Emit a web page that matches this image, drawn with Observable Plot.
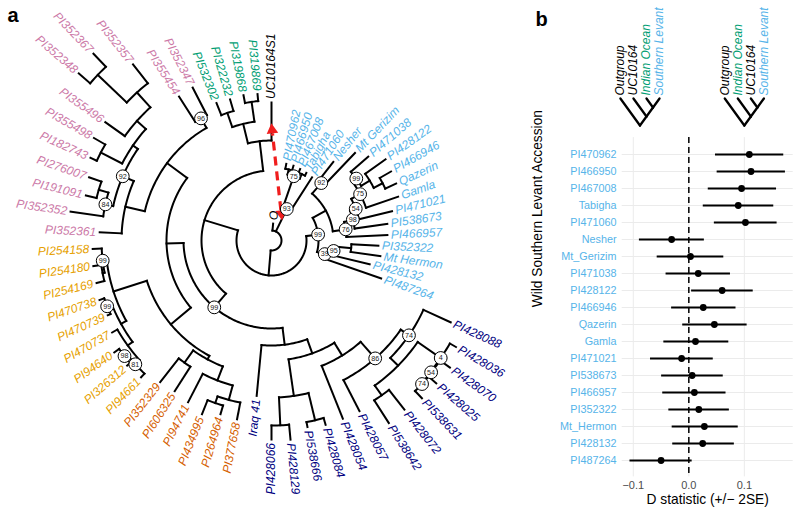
<!DOCTYPE html>
<html><head><meta charset="utf-8">
<script src="https://cdn.jsdelivr.net/npm/d3@7"></script>
<script src="https://cdn.jsdelivr.net/npm/@observablehq/plot@0.6"></script>
<style>
body{margin:0;background:#fff;}
#wrap{display:flex;width:800px;height:519px;overflow:hidden;background:#fff;}
#left{width:520px;height:519px;}
#right{display:flex;flex-direction:column;width:280px;}
svg{display:block;overflow:visible;}
</style></head><body>
<div id="wrap"><div id="left"></div><div id="right"></div></div>
<script>
const FONT = '"Liberation Sans", Arial, Helvetica, sans-serif';

// ---------------- Panel a: phylogeny (Newick clades, branch lengths, bootstrap labels) ----------------
const cladeSL93 = "(((PI470962:5,PI466950:5):5,(PI467008:4,Tabigha:3):5)75:33,PI471060:40)93";
const cladeSLmain = "(((Nesher:24,Mt_Gerizim:45)92:14,(((((PI471038:23,(PI428122:25,(PI466946:13,Qazerin:12):10):10)99:5,Gamla:34)75:10,PI471021:34)54:6,PI538673:33)98:9,PI466957:41)76:13):15,(((PI352322:27,Mt_Hermon:30):17,PI428132:38)95:8,PI487264:61)39:8)99";
const cladeNavy = "(((((PI428088:30,((PI428036:7,(PI428070:12,(PI428025:10,PI538631:10)74:1)54:1)4:28,(PI428072:25,PI538642:27):12):11)74:10,PI428057:35)86:22,PI428054:57):15,((PI428084:7,PI538666:5):28,(PI428129:15,PI428066:14):28):37):15,Iraq_41:51)";
const cladeVermillion = "(((PI377658:17,(PI264964:9,PI434995:15):7):15,PI94741:32):15,(PI606325:29,PI352329:30):15)";
const cladeOrange = "((((PI94661:5,(PI326312:4,PI94640:6)98:3)81:6,PI470737:6):6,(PI470739:3,PI470738:5)99:5):6,((PI254169:8,PI254180:8):2,PI254158:9)99:4)";
const cladePink = "((PI352361:22,((PI352352:33,(PI191091:11,PI276007:13):10)84:8,((PI182743:7,PI355498:13):24,(PI355496:24,((PI352348:15,PI352367:18):40,PI352357:24):20):12):6)92:12):20,(PI355454:30,PI352347:31)96:11)";
const cladeIndianOceanUC = "(((PI532302:13,PI322232:12):15,(PI319868:8,PI319869:7):20):20,UC10164S1:38)";
const treeNewick = `(O:7,${cladeSL93}:25,(${cladeSLmain}:12,((${cladeNavy}:17,((${cladeVermillion}:4,${cladeOrange}:35):26,${cladePink}:25):17)99:18,${cladeIndianOceanUC}:30):35):25):10;`;

const southernLevantTips = ["PI470962","PI466950","PI467008","Tabigha","PI471060","Nesher","Mt Gerizim","PI471038","PI428122","PI466946","Qazerin","Gamla","PI471021","PI538673","PI466957","PI352322","Mt Hermon","PI428132","PI487264"];
const navyTips = ["PI428088","PI428036","PI428070","PI428025","PI538631","PI428072","PI538642","PI428057","PI428054","PI428084","PI538666","PI428129","PI428066","Iraq 41"];
const vermillionTips = ["PI377658","PI264964","PI434995","PI94741","PI606325","PI352329"];
const orangeTips = ["PI94661","PI326312","PI94640","PI470737","PI470739","PI470738","PI254169","PI254180","PI254158"];
const pinkTips = ["PI352361","PI352352","PI191091","PI276007","PI182743","PI355498","PI355496","PI352348","PI352367","PI352357","PI355454","PI352347"];
const indianOceanTips = ["PI532302","PI322232","PI319868","PI319869"];

const groupColor = [
  [southernLevantTips, "#56B4E9"], [navyTips, "#000080"], [vermillionTips, "#D55E00"],
  [orangeTips, "#E69F00"], [pinkTips, "#CC79A7"], [indianOceanTips, "#009E73"]
];
const colorOf = name => { for (const [g, c] of groupColor) if (g.includes(name)) return c; return "#000"; };

function parseNewick(s) {
  let i = 0;
  function node() {
    const n = {children: []};
    if (s[i] === "(") {
      i++;
      do { n.children.push(node()); } while (s[i] === "," && ++i);
      i++;
    }
    let name = "";
    while (i < s.length && !",():;".includes(s[i])) name += s[i++];
    n.name = name.trim().replace(/_/g, " ");
    n.length = 0;
    if (s[i] === ":") {
      i++; let num = "";
      while (i < s.length && !",();".includes(s[i])) num += s[i++];
      n.length = +num;
    }
    return n;
  }
  return node();
}

const root = parseNewick(treeNewick);
const tips = [], nodes = [];
(function walk(n, parent) {
  n.parent = parent;
  n.depth = (parent ? parent.depth : 0) + n.length;
  nodes.push(n);
  if (!n.children.length) tips.push(n);
  n.children.forEach(c => walk(c, n));
})(root, null);
tips.forEach((t, i) => t.angle = -90 + 360 * (i + 1) / tips.length);
(function setAngle(n) {
  if (n.children.length) { n.children.forEach(setAngle); n.angle = d3.mean(n.children, c => c.angle); }
})(root);

const rad = a => a * Math.PI / 180;
const PX = (r, a) => r * Math.cos(rad(a));
const PY = (r, a) => r * Math.sin(rad(a));

const segments = nodes.filter(n => n.parent).map(n => ({
  x1: PX(n.parent.depth, n.angle), y1: PY(n.parent.depth, n.angle),
  x2: PX(n.depth, n.angle), y2: PY(n.depth, n.angle)
}));
const arcPts = [];
nodes.filter(n => n.children.length).forEach((n, k) => {
  const a0 = d3.min(n.children, c => c.angle), a1 = d3.max(n.children, c => c.angle);
  const steps = Math.max(2, Math.ceil(a1 - a0));
  for (let j = 0; j <= steps; j++) {
    const a = a0 + (a1 - a0) * j / steps;
    arcPts.push({id: k, x: PX(n.depth, a), y: PY(n.depth, a)});
  }
});
const boots = nodes.filter(n => n.children.length && /^\d+$/.test(n.name))
  .map(n => ({x: PX(n.depth, n.angle), y: PY(n.depth, n.angle), label: n.name}));
const tipLabels = tips.map(t => {
  const flip = t.angle >= 90 && t.angle < 270;
  const r = t.depth + 3.5;
  return {x: PX(r, t.angle), y: PY(r, t.angle), name: t.name, flip,
          rot: flip ? t.angle - 180 : t.angle, fill: colorOf(t.name)};
});

// red dashed double arrow: between stem of clade "93" and stem of UC10164S1
const c93 = nodes.find(n => n.name === "93");
const uc = nodes.find(n => n.name === "UC10164S1");
const rB = c93.parent.depth + 0.55 * c93.length;
const rT = uc.parent.depth + 0.42 * uc.length;
const B = [PX(rB, c93.angle), PY(rB, c93.angle)], T = [PX(rT, uc.angle), PY(rT, uc.angle)];
const L = Math.hypot(T[0] - B[0], T[1] - B[1]);
const ux = (T[0] - B[0]) / L, uy = (T[1] - B[1]) / L;
const arrowLine = [{x1: B[0] + ux * 9, y1: B[1] + uy * 9, x2: T[0] - ux * 9, y2: T[1] - uy * 9}];
const rotUp = Math.atan2(ux, -uy) * 180 / Math.PI;
const arrowHeads = [
  {x: T[0] - ux * 5.5, y: T[1] - uy * 5.5, rot: rotUp},
  {x: B[0] + ux * 5.5, y: B[1] + uy * 5.5, rot: rotUp + 180}
];

const treePlot = Plot.plot({
  width: 520, height: 519, margin: 0,
  x: {domain: [-271, 249], axis: null},
  y: {domain: [-240, 279], axis: null, reverse: true},
  color: {type: "identity"},
  style: {fontFamily: FONT, background: "white", overflow: "visible"},
  marks: [
    Plot.link(segments, {x1: "x1", y1: "y1", x2: "x2", y2: "y2", stroke: "black", strokeWidth: 2, strokeLinecap: "square"}),
    Plot.line(arcPts, {x: "x", y: "y", z: "id", stroke: "black", strokeWidth: 2, strokeLinecap: "square"}),
    Plot.link(arrowLine, {x1: "x1", y1: "y1", x2: "x2", y2: "y2", stroke: "#f01e1e", strokeWidth: 3.2, strokeDasharray: "9,6"}),
    Plot.dot(arrowHeads, {x: "x", y: "y", rotate: "rot", symbol: "triangle", r: 4.3, fill: "#f01e1e"}),
    Plot.dot(boots, {x: "x", y: "y", r: 6.4, fill: "white", stroke: "black", strokeWidth: 1}),
    Plot.text(boots, {x: "x", y: "y", text: "label", fontSize: 7.2, fill: "#222"}),
    Plot.text(tipLabels.filter(d => !d.flip), {x: "x", y: "y", text: "name", rotate: "rot", fill: "fill", textAnchor: "start", fontStyle: "italic", fontSize: 12}),
    Plot.text(tipLabels.filter(d => d.flip), {x: "x", y: "y", text: "name", rotate: "rot", fill: "fill", textAnchor: "end", fontStyle: "italic", fontSize: 12}),
    Plot.text(["a"], {text: d => d, frameAnchor: "top-left", dx: 7, dy: 21, textAnchor: "start", lineAnchor: "bottom", fontWeight: "bold", fontSize: 20, fill: "black"})
  ]
});
document.getElementById("left").append(treePlot);

// ---------------- Panel b: D statistics ----------------
const accessions = ["PI470962","PI466950","PI467008","Tabigha","PI471060","Nesher","Mt_Gerizim","PI471038","PI428122","PI466946","Qazerin","Gamla","PI471021","PI538673","PI466957","PI352322","Mt_Hermon","PI428132","PI487264"];
const dStat = [0.109, 0.112, 0.095, 0.089, 0.102, -0.031, 0.003, 0.017, 0.060, 0.026, 0.046, 0.012, -0.013, 0.006, 0.010, 0.018, 0.028, 0.025, -0.050];
const dLower = [0.048, 0.051, 0.035, 0.026, 0.046, -0.089, -0.057, -0.041, 0.005, -0.031, -0.011, -0.045, -0.069, -0.049, -0.047, -0.036, -0.030, -0.029, -0.106];
const dUpper = [0.171, 0.174, 0.158, 0.153, 0.159, 0.028, 0.063, 0.075, 0.116, 0.085, 0.105, 0.072, 0.044, 0.062, 0.067, 0.073, 0.089, 0.082, 0.006];
const xTicks = [-0.1, 0, 0.1];
const topologyLeft = ["Outgroup", "UC10164", "Indian Ocean", "Southern Levant"];
const topologyRight = ["Outgroup", "Indian Ocean", "UC10164", "Southern Levant"];
const topologyColor = {"Outgroup": "#000", "UC10164": "#000", "Indian Ocean": "#009E73", "Southern Levant": "#56B4E9"};

const X_DOMAIN = [-0.12, 0.188];
const ML = 101.7, MR = 7.3;

// ladder topology icons (slanted cladograms)
function ladder(order, center, spacing) {
  const n = order.length;
  const xAt = i => center + (i - (n - 1) / 2) * spacing;
  const nodeAt = a => ({x: xAt((a + n - 1) / 2), y: (n - 1 - a) / 2});
  const edges = [], labels = [];
  for (let a = 0; a < n - 1; a++) {
    const nd = nodeAt(a);
    edges.push({x1: xAt(a), y1: 0, x2: nd.x, y2: nd.y});
    if (a > 0) { const p = nodeAt(a - 1); edges.push({x1: nd.x, y1: nd.y, x2: p.x, y2: p.y}); }
  }
  const last = nodeAt(n - 2);
  edges.push({x1: xAt(n - 1), y1: 0, x2: last.x, y2: last.y});
  order.forEach((name, i) => labels.push({x: xAt(i), y: 0, name, fill: topologyColor[name]}));
  return {edges, labels};
}
const iconA = ladder(topologyLeft, -0.088, 0.0235);
const iconB = ladder(topologyRight, 0.100, 0.0235);

const iconPlot = Plot.plot({
  width: 280, height: 135,
  marginLeft: ML, marginRight: MR, marginTop: 98, marginBottom: 10,
  x: {domain: X_DOMAIN, axis: null},
  y: {domain: [0, 1.5], axis: null, reverse: true},
  color: {type: "identity"},
  style: {fontFamily: FONT, background: "white", overflow: "visible"},
  marks: [
    Plot.link([...iconA.edges, ...iconB.edges], {x1: "x1", y1: "y1", x2: "x2", y2: "y2", stroke: "black", strokeWidth: 2.3, strokeLinecap: "round"}),
    Plot.text([...iconA.labels, ...iconB.labels], {x: "x", y: "y", dy: -3, text: "name", rotate: -90, textAnchor: "start", fill: "fill", fontStyle: "italic", fontSize: 12}),
    Plot.text(["b"], {text: d => d, frameAnchor: "top-left", dx: -86.7, dy: -73, textAnchor: "start", lineAnchor: "bottom", fontWeight: "bold", fontSize: 20, fill: "black"})
  ]
});

const dData = accessions.map((name, i) => ({name, D: dStat[i], lo: dLower[i], hi: dUpper[i]}));
const dotPlot = Plot.plot({
  width: 280, height: 384,
  marginLeft: ML, marginRight: MR, marginTop: 2.1, marginBottom: 42.6,
  style: {fontFamily: FONT, fontSize: "11px", color: "#4d4d4d", background: "white", overflow: "visible"},
  x: {domain: X_DOMAIN, ticks: xTicks, tickFormat: ".1f", tickSize: 0, tickPadding: 4, label: null},
  y: {domain: accessions, padding: 0.6, axis: null},
  marks: [
    Plot.ruleY(accessions, {y: d => d, stroke: "#ebebeb", strokeWidth: 1}),
    Plot.ruleX(xTicks, {x: d => d, stroke: "#ebebeb", strokeWidth: 1}),
    Plot.ruleX([0], {x: d => d, stroke: "black", strokeWidth: 1.5, strokeDasharray: "6,4"}),
    Plot.ruleY(dData, {y: "name", x1: "lo", x2: "hi", stroke: "black", strokeWidth: 1.8}),
    Plot.dot(dData, {x: "D", y: "name", r: 3.4, fill: "black"}),
    Plot.text(accessions, {y: d => d, text: d => d, frameAnchor: "left", dx: -5.7, textAnchor: "end", fill: "#56B4E9", fontSize: 10.8}),
    Plot.text(["Wild Southern Levant Accession"], {text: d => d, frameAnchor: "left", dx: -84.7, rotate: -90, fill: "black", fontSize: 13.75}),
    Plot.text(["D statistic (+/\u2212 2SE)"], {text: d => d, frameAnchor: "bottom", dy: 26.6, fill: "black", fontSize: 13.75})
  ]
});
const right = document.getElementById("right");
right.append(iconPlot, dotPlot);
</script></body></html>
